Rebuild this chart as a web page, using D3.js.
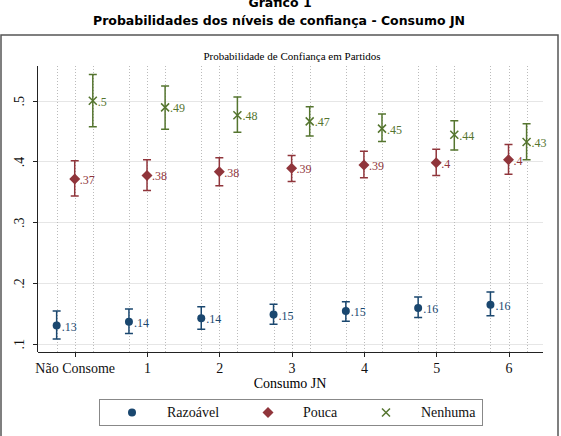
<!doctype html>
<html>
<head>
<meta charset="UTF-8" />
<title>Probabilidades dos níveis de confiança - Consumo JN</title>
<script src="https://d3js.org/d3.v7.min.js"></script>
<style type="text/css">
body {
	margin: 0;
	background: #fff;
}

.axis path,
.axis line {
	stroke: #222;
	shape-rendering: crispEdges;
}

.axis text {
	font-size: 14px;
	fill: #111;
}

.grid line {
	stroke: #e6e6e6;
	shape-rendering: crispEdges;
}

.vline {
	stroke: #bbb;
	stroke-dasharray: 1,2;
}
</style>
</head>
<body>
<script>
	// categorias do eixo x
	var categories = ["Não Consome", "1", "2", "3", "4", "5", "6"];

	// probabilidades previstas e intervalos
	var razoavel   = [0.130, 0.136, 0.142, 0.148, 0.154, 0.159, 0.164];
	var razoavelLo = [0.108, 0.117, 0.124, 0.132, 0.137, 0.143, 0.146];
	var razoavelHi = [0.154, 0.157, 0.161, 0.165, 0.169, 0.177, 0.185];

	var pouca   = [0.371, 0.377, 0.383, 0.389, 0.394, 0.398, 0.403];
	var poucaLo = [0.343, 0.352, 0.360, 0.367, 0.373, 0.377, 0.379];
	var poucaHi = [0.401, 0.403, 0.406, 0.410, 0.417, 0.420, 0.428];

	var nenhuma   = [0.500, 0.489, 0.476, 0.466, 0.454, 0.444, 0.432];
	var nenhumaLo = [0.457, 0.453, 0.448, 0.442, 0.433, 0.419, 0.403];
	var nenhumaHi = [0.543, 0.524, 0.506, 0.490, 0.478, 0.467, 0.462];

	var yTicks = [0.1, 0.2, 0.3, 0.4, 0.5];

	var series = [
		{name: "Razoável", shape: "circle",  color: "#1a476f", offset: -0.25, v: razoavel, lo: razoavelLo, hi: razoavelHi},
		{name: "Pouca",    shape: "diamond", color: "#90353b", offset: 0,     v: pouca,    lo: poucaLo,    hi: poucaHi},
		{name: "Nenhuma",  shape: "x",       color: "#55752f", offset: 0.25,  v: nenhuma,  lo: nenhumaLo,  hi: nenhumaHi}
	];

	var W = 561, H = 436;
	var plot = {left: 38, right: 543, top: 66, bottom: 352};
	var serif = "'Liberation Serif', 'DejaVu Serif', 'Times New Roman', serif";

	var svg = d3.select("body").append("svg")
		.attr("width", W)
		.attr("height", H);

	// titulo da figura
	svg.append("text")
		.attr("x", 280).attr("y", 7)
		.attr("text-anchor", "middle")
		.style("font-family", "'DejaVu Sans', Verdana, sans-serif")
		.style("font-weight", "bold")
		.style("font-size", "12.5px")
		.text("Gráfico 1");

	svg.append("text")
		.attr("x", 279).attr("y", 25)
		.attr("text-anchor", "middle")
		.style("font-family", "'DejaVu Sans', Verdana, sans-serif")
		.style("font-weight", "bold")
		.style("font-size", "12.5px")
		.text("Probabilidades dos níveis de confiança - Consumo JN");

	// moldura
	svg.append("rect")
		.attr("x", 1).attr("y", 35)
		.attr("width", 557).attr("height", 420)
		.attr("fill", "#fff")
		.attr("stroke", "#555")
		.attr("stroke-width", 1.5);

	var x = d3.scaleLinear()
		.domain([-0.508, 6.477])
		.range([plot.left, plot.right]);

	var y = d3.scaleLinear()
		.domain([0.0864, 0.5571])
		.range([plot.bottom, plot.top]);

	svg.append("text")
		.attr("x", 292).attr("y", 60)
		.attr("text-anchor", "middle")
		.style("font-family", serif)
		.style("font-size", "11px")
		.text("Probabilidade de Confiança em Partidos");

	// grade horizontal
	svg.append("g")
		.attr("class", "grid")
		.selectAll("line")
		.data(yTicks)
		.enter().append("line")
			.attr("x1", plot.left).attr("x2", plot.right)
			.attr("y1", function(d) { return Math.round(y(d)) + 0.5; })
			.attr("y2", function(d) { return Math.round(y(d)) + 0.5; });

	// linhas pontilhadas verticais em cada posicao de marcador
	var vpos = [];
	categories.forEach(function(c, i) {
		series.forEach(function(s) { vpos.push(i + s.offset); });
	});
	svg.append("g")
		.selectAll("line")
		.data(vpos)
		.enter().append("line")
			.attr("class", "vline")
			.attr("x1", function(d) { return Math.round(x(d)) + 0.5; })
			.attr("x2", function(d) { return Math.round(x(d)) + 0.5; })
			.attr("y1", plot.top)
			.attr("y2", plot.bottom);

	var xAxis = d3.axisBottom(x)
		.tickValues(d3.range(categories.length))
		.tickFormat(function(d) { return categories[d]; })
		.tickSizeInner(5)
		.tickSizeOuter(0)
		.tickPadding(6);

	var yAxis = d3.axisLeft(y)
		.tickValues(yTicks)
		.tickFormat(function(d) { return d3.format(".1f")(d).replace(/^0/, ""); })
		.tickSizeInner(5)
		.tickSizeOuter(0);

	var gx = svg.append("g")
		.attr("class", "x axis")
		.attr("transform", "translate(0," + plot.bottom + ")")
		.call(xAxis);
	gx.attr("font-family", serif);
	gx.select(".domain").attr("d", "M" + plot.left + ",0.5H" + plot.right);
	gx.selectAll(".tick text").attr("y", 21).attr("dy", 0);

	var gy = svg.append("g")
		.attr("class", "y axis")
		.attr("transform", "translate(" + plot.left + ",0)")
		.call(yAxis);
	gy.attr("font-family", serif);
	gy.select(".domain").attr("d", "M-0.5," + plot.top + "V" + plot.bottom);
	gy.selectAll(".tick text")
		.attr("x", null).attr("dy", null)
		.attr("text-anchor", "middle")
		.attr("transform", "translate(-14,0) rotate(-90)");

	svg.append("text")
		.attr("x", 290).attr("y", 388)
		.attr("text-anchor", "middle")
		.style("font-family", serif)
		.style("font-size", "14px")
		.text("Consumo JN");

	function drawMarker(g, shape, color) {
		if (shape === "circle") {
			g.append("circle").attr("r", 4).attr("fill", color);
		} else if (shape === "diamond") {
			g.append("path").attr("d", "M0,-5.5L5.5,0L0,5.5L-5.5,0Z").attr("fill", color);
		} else {
			g.append("path").attr("d", "M-4,-4L4,4M-4,4L4,-4")
				.attr("stroke", color).attr("stroke-width", 1.5).attr("fill", "none");
		}
	}

	var fmt = function(v) { return d3.format(".2f")(v).replace(/^0/, "").replace(/0+$/, ""); };

	series.forEach(function(s) {
		var g = svg.append("g");
		var pts = s.v.map(function(v, i) { return {i: i, v: v, lo: s.lo[i], hi: s.hi[i]}; });

		// barras de erro
		g.selectAll("path.err")
			.data(pts)
			.enter().append("path")
				.attr("class", "err")
				.attr("fill", "none")
				.attr("stroke", s.color)
				.attr("stroke-width", 1.5)
				.attr("d", function(d) {
					var cx = x(d.i + s.offset), t = y(d.hi), b = y(d.lo);
					return "M" + (cx - 4) + "," + t + "H" + (cx + 4) +
						"M" + cx + "," + t + "V" + b +
						"M" + (cx - 4) + "," + b + "H" + (cx + 4);
				});

		g.selectAll("g.mk")
			.data(pts)
			.enter().append("g")
				.attr("class", "mk")
				.attr("transform", function(d) { return "translate(" + x(d.i + s.offset) + "," + y(d.v) + ")"; })
				.each(function() { drawMarker(d3.select(this), s.shape, s.color); });

		g.selectAll("text")
			.data(pts)
			.enter().append("text")
				.attr("x", function(d) { return x(d.i + s.offset) + 5; })
				.attr("y", function(d) { return y(d.v) + 5; })
				.style("font-family", serif)
				.style("font-size", "12px")
				.attr("fill", s.color)
				.text(function(d) { return fmt(d.v); });
	});

	// legenda
	var leg = svg.append("g");
	leg.append("rect")
		.attr("x", 99.5).attr("y", 399.5)
		.attr("width", 383).attr("height", 26)
		.attr("fill", "#fff")
		.attr("stroke", "#888")
		.attr("stroke-width", 1);

	var legX = [132, 268, 386];
	var legTextX = [167, 303, 421];
	series.forEach(function(s, k) {
		var m = leg.append("g").attr("transform", "translate(" + legX[k] + ",412.5)");
		drawMarker(m, s.shape, s.color);
		leg.append("text")
			.attr("x", legTextX[k]).attr("y", 417)
			.style("font-family", serif)
			.style("font-size", "14px")
			.attr("fill", "#111")
			.text(s.name);
	});
</script>
</body>
</html>
